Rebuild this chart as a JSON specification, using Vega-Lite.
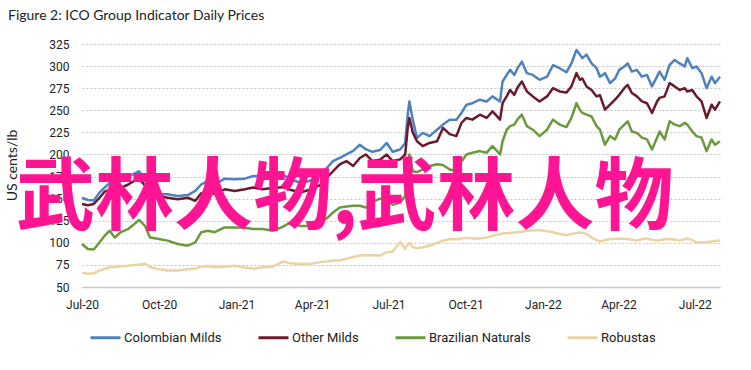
{
  "$schema": "https://vega.github.io/schema/vega-lite/v6.json",
  "width": 638,
  "height": 243,
  "autosize": "none",
  "padding": {"left": 82, "top": 44, "right": 31, "bottom": 83},
  "background": "white",
  "title": {
    "text": "Figure 2: ICO Group Indicator Daily Prices",
    "anchor": "start",
    "frame": "group",
    "dx": -74,
    "offset": 4,
    "baseline": "alphabetic",
    "font": "Lato",
    "fontSize": 14,
    "fontWeight": "normal",
    "color": "#222222"
  },
  "encoding": {
    "x": {
      "field": "date",
      "type": "temporal",
      "scale": {
        "type": "utc",
        "domain": [
          {"year": 2020, "month": 7, "date": 1, "utc": true},
          {"year": 2022, "month": 7, "date": 31, "utc": true}
        ]
      },
      "axis": {
        "values": [
          {"year": 2020, "month": 7, "date": 1, "utc": true},
          {"year": 2020, "month": 10, "date": 1, "utc": true},
          {"year": 2021, "month": 1, "date": 1, "utc": true},
          {"year": 2021, "month": 4, "date": 1, "utc": true},
          {"year": 2021, "month": 7, "date": 1, "utc": true},
          {"year": 2021, "month": 10, "date": 1, "utc": true},
          {"year": 2022, "month": 1, "date": 1, "utc": true},
          {"year": 2022, "month": 4, "date": 1, "utc": true},
          {"year": 2022, "month": 7, "date": 1, "utc": true}
        ],
        "labelExpr": "utcFormat(datum.value, '%b-%y')",
        "title": null,
        "grid": false,
        "ticks": false,
        "domain": true,
        "domainColor": "#c8c8c8",
        "domainWidth": 1.5,
        "labelPadding": 12,
        "labelFlush": false,
        "labelOverlap": false
      }
    },
    "y": {
      "field": "price",
      "type": "quantitative",
      "scale": {"domain": [50, 325], "nice": false, "zero": false},
      "axis": {
        "values": [50, 75, 100, 125, 150, 175, 200, 225, 250, 275, 300, 325],
        "title": "US cents/lb",
        "titleFont": "Lato",
        "titleFontSize": 14,
        "titleFontWeight": "normal",
        "titleColor": "#222222",
        "titleX": -70,
        "titleY": 121,
        "titleBaseline": "middle",
        "domain": false,
        "ticks": false,
        "grid": true,
        "gridColor": "#c4c4c4",
        "gridDash": [2, 2],
        "gridWidth": 1.2,
        "labelPadding": 13,
        "labelOverlap": false
      }
    }
  },
  "layer": [
    {
      "data": {
        "values": [
          {"date": "2020-07-01", "Colombian Milds": 151, "Other Milds": 144, "Brazilian Naturals": 98.7, "Robustas": 66},
          {"date": "2020-07-08", "Colombian Milds": 148.5, "Other Milds": 142.6, "Brazilian Naturals": 93, "Robustas": 65},
          {"date": "2020-07-15", "Colombian Milds": 148, "Other Milds": 144, "Brazilian Naturals": 92.5, "Robustas": 65.5},
          {"date": "2020-07-22", "Colombian Milds": 157, "Other Milds": 151, "Brazilian Naturals": 100.6, "Robustas": 68.7},
          {"date": "2020-07-28", "Colombian Milds": 162.5, "Other Milds": 158, "Brazilian Naturals": 108, "Robustas": 70.5},
          {"date": "2020-08-03", "Colombian Milds": 168, "Other Milds": 160, "Brazilian Naturals": 113.7, "Robustas": 72.4},
          {"date": "2020-08-09", "Colombian Milds": 166, "Other Milds": 158, "Brazilian Naturals": 106, "Robustas": 72.6},
          {"date": "2020-08-16", "Colombian Milds": 170, "Other Milds": 162, "Brazilian Naturals": 112, "Robustas": 73.5},
          {"date": "2020-08-25", "Colombian Milds": 175.6, "Other Milds": 166, "Brazilian Naturals": 115.6, "Robustas": 74},
          {"date": "2020-09-01", "Colombian Milds": 178, "Other Milds": 170, "Brazilian Naturals": 121, "Robustas": 75},
          {"date": "2020-09-07", "Colombian Milds": 181, "Other Milds": 172, "Brazilian Naturals": 126, "Robustas": 75.5},
          {"date": "2020-09-14", "Colombian Milds": 172, "Other Milds": 165, "Brazilian Naturals": 119.3, "Robustas": 76.5},
          {"date": "2020-09-20", "Colombian Milds": 158.7, "Other Milds": 156, "Brazilian Naturals": 106, "Robustas": 72.4},
          {"date": "2020-09-29", "Colombian Milds": 155, "Other Milds": 153, "Brazilian Naturals": 104.6, "Robustas": 70.5},
          {"date": "2020-10-11", "Colombian Milds": 155, "Other Milds": 151, "Brazilian Naturals": 102.5, "Robustas": 68.7},
          {"date": "2020-10-23", "Colombian Milds": 153, "Other Milds": 149.4, "Brazilian Naturals": 98.7, "Robustas": 68.7},
          {"date": "2020-11-04", "Colombian Milds": 154, "Other Milds": 151, "Brazilian Naturals": 96.8, "Robustas": 70},
          {"date": "2020-11-13", "Colombian Milds": 158.7, "Other Milds": 147.5, "Brazilian Naturals": 100.6, "Robustas": 71},
          {"date": "2020-11-20", "Colombian Milds": 166, "Other Milds": 156, "Brazilian Naturals": 112, "Robustas": 73},
          {"date": "2020-11-28", "Colombian Milds": 170, "Other Milds": 158.7, "Brazilian Naturals": 113.7, "Robustas": 73.5},
          {"date": "2020-12-06", "Colombian Milds": 166, "Other Milds": 155, "Brazilian Naturals": 112, "Robustas": 72.4},
          {"date": "2020-12-18", "Colombian Milds": 172.6, "Other Milds": 160.6, "Brazilian Naturals": 117.4, "Robustas": 73},
          {"date": "2020-12-30", "Colombian Milds": 172, "Other Milds": 158.7, "Brazilian Naturals": 117.4, "Robustas": 74},
          {"date": "2021-01-11", "Colombian Milds": 172.6, "Other Milds": 160.6, "Brazilian Naturals": 117, "Robustas": 72},
          {"date": "2021-01-21", "Colombian Milds": 175.6, "Other Milds": 162.5, "Brazilian Naturals": 115.6, "Robustas": 70.6},
          {"date": "2021-02-01", "Colombian Milds": 175, "Other Milds": 160.6, "Brazilian Naturals": 115.6, "Robustas": 72.4},
          {"date": "2021-02-13", "Colombian Milds": 176, "Other Milds": 162, "Brazilian Naturals": 113.7, "Robustas": 73},
          {"date": "2021-02-25", "Colombian Milds": 177, "Other Milds": 163, "Brazilian Naturals": 118, "Robustas": 78.7},
          {"date": "2021-03-06", "Colombian Milds": 172, "Other Milds": 160, "Brazilian Naturals": 123, "Robustas": 77},
          {"date": "2021-03-18", "Colombian Milds": 168, "Other Milds": 157, "Brazilian Naturals": 119, "Robustas": 76},
          {"date": "2021-03-29", "Colombian Milds": 170, "Other Milds": 160, "Brazilian Naturals": 119, "Robustas": 76},
          {"date": "2021-04-10", "Colombian Milds": 176, "Other Milds": 165, "Brazilian Naturals": 122, "Robustas": 78},
          {"date": "2021-04-19", "Colombian Milds": 185, "Other Milds": 174, "Brazilian Naturals": 128, "Robustas": 79},
          {"date": "2021-04-26", "Colombian Milds": 192.5, "Other Milds": 181, "Brazilian Naturals": 134.4, "Robustas": 80},
          {"date": "2021-05-04", "Colombian Milds": 196, "Other Milds": 188.7, "Brazilian Naturals": 140, "Robustas": 80},
          {"date": "2021-05-12", "Colombian Milds": 200, "Other Milds": 192.5, "Brazilian Naturals": 141, "Robustas": 82},
          {"date": "2021-05-20", "Colombian Milds": 204, "Other Milds": 187, "Brazilian Naturals": 142, "Robustas": 84},
          {"date": "2021-05-28", "Colombian Milds": 211, "Other Milds": 196, "Brazilian Naturals": 142, "Robustas": 85.6},
          {"date": "2021-06-04", "Colombian Milds": 206, "Other Milds": 200, "Brazilian Naturals": 140, "Robustas": 86},
          {"date": "2021-06-12", "Colombian Milds": 203, "Other Milds": 192.5, "Brazilian Naturals": 146, "Robustas": 86},
          {"date": "2021-06-21", "Colombian Milds": 205, "Other Milds": 194, "Brazilian Naturals": 150, "Robustas": 85.6},
          {"date": "2021-06-29", "Colombian Milds": 213, "Other Milds": 200, "Brazilian Naturals": 148, "Robustas": 89.4},
          {"date": "2021-07-06", "Colombian Milds": 203, "Other Milds": 192.5, "Brazilian Naturals": 143, "Robustas": 90},
          {"date": "2021-07-15", "Colombian Milds": 205.6, "Other Milds": 194.4, "Brazilian Naturals": 145.6, "Robustas": 101},
          {"date": "2021-07-21", "Colombian Milds": 213, "Other Milds": 200, "Brazilian Naturals": 153, "Robustas": 93},
          {"date": "2021-07-24", "Colombian Milds": 245, "Other Milds": 230, "Brazilian Naturals": 185, "Robustas": 98},
          {"date": "2021-07-26", "Colombian Milds": 260, "Other Milds": 241.3, "Brazilian Naturals": 200, "Robustas": 100},
          {"date": "2021-07-30", "Colombian Milds": 239.4, "Other Milds": 225, "Brazilian Naturals": 181, "Robustas": 95},
          {"date": "2021-08-04", "Colombian Milds": 218.8, "Other Milds": 215, "Brazilian Naturals": 180, "Robustas": 94},
          {"date": "2021-08-11", "Colombian Milds": 224.4, "Other Milds": 209.4, "Brazilian Naturals": 183, "Robustas": 95},
          {"date": "2021-08-19", "Colombian Milds": 220.7, "Other Milds": 213, "Brazilian Naturals": 187, "Robustas": 97},
          {"date": "2021-08-28", "Colombian Milds": 228, "Other Milds": 215, "Brazilian Naturals": 189, "Robustas": 100},
          {"date": "2021-09-04", "Colombian Milds": 233.8, "Other Milds": 230, "Brazilian Naturals": 188, "Robustas": 102.5},
          {"date": "2021-09-12", "Colombian Milds": 239.4, "Other Milds": 223, "Brazilian Naturals": 183, "Robustas": 104.3},
          {"date": "2021-09-20", "Colombian Milds": 239.4, "Other Milds": 220.7, "Brazilian Naturals": 181, "Robustas": 104},
          {"date": "2021-09-26", "Colombian Milds": 247, "Other Milds": 235.7, "Brazilian Naturals": 192, "Robustas": 105},
          {"date": "2021-10-02", "Colombian Milds": 256.3, "Other Milds": 241.3, "Brazilian Naturals": 200, "Robustas": 105.6},
          {"date": "2021-10-09", "Colombian Milds": 258, "Other Milds": 239.4, "Brazilian Naturals": 202, "Robustas": 105},
          {"date": "2021-10-18", "Colombian Milds": 262, "Other Milds": 245, "Brazilian Naturals": 203.8, "Robustas": 105},
          {"date": "2021-10-26", "Colombian Milds": 260, "Other Milds": 241.3, "Brazilian Naturals": 202, "Robustas": 106},
          {"date": "2021-11-02", "Colombian Milds": 265.7, "Other Milds": 248.8, "Brazilian Naturals": 209.4, "Robustas": 108},
          {"date": "2021-11-11", "Colombian Milds": 260, "Other Milds": 239.4, "Brazilian Naturals": 200, "Robustas": 110},
          {"date": "2021-11-14", "Colombian Milds": 282.6, "Other Milds": 258, "Brazilian Naturals": 215, "Robustas": 110.5},
          {"date": "2021-11-19", "Colombian Milds": 290, "Other Milds": 266, "Brazilian Naturals": 228, "Robustas": 111},
          {"date": "2021-11-23", "Colombian Milds": 295.7, "Other Milds": 273, "Brazilian Naturals": 232, "Robustas": 111.2},
          {"date": "2021-11-28", "Colombian Milds": 290, "Other Milds": 267.5, "Brazilian Naturals": 233.8, "Robustas": 111.6},
          {"date": "2021-12-02", "Colombian Milds": 298, "Other Milds": 276, "Brazilian Naturals": 240, "Robustas": 112},
          {"date": "2021-12-07", "Colombian Milds": 305, "Other Milds": 282.6, "Brazilian Naturals": 245, "Robustas": 112.5},
          {"date": "2021-12-13", "Colombian Milds": 292, "Other Milds": 271.3, "Brazilian Naturals": 232, "Robustas": 113.7},
          {"date": "2021-12-20", "Colombian Milds": 290, "Other Milds": 265.7, "Brazilian Naturals": 228, "Robustas": 114},
          {"date": "2021-12-28", "Colombian Milds": 284.5, "Other Milds": 260, "Brazilian Naturals": 220.7, "Robustas": 114.5},
          {"date": "2022-01-06", "Colombian Milds": 288, "Other Milds": 265.7, "Brazilian Naturals": 228, "Robustas": 113},
          {"date": "2022-01-13", "Colombian Milds": 301, "Other Milds": 275, "Brazilian Naturals": 239.4, "Robustas": 112},
          {"date": "2022-01-21", "Colombian Milds": 297.6, "Other Milds": 271.3, "Brazilian Naturals": 233.8, "Robustas": 110},
          {"date": "2022-01-29", "Colombian Milds": 293, "Other Milds": 270, "Brazilian Naturals": 231, "Robustas": 108.5},
          {"date": "2022-02-04", "Colombian Milds": 303, "Other Milds": 277, "Brazilian Naturals": 241.3, "Robustas": 110},
          {"date": "2022-02-10", "Colombian Milds": 318.2, "Other Milds": 292, "Brazilian Naturals": 258, "Robustas": 111},
          {"date": "2022-02-14", "Colombian Milds": 313, "Other Milds": 284.5, "Brazilian Naturals": 250.7, "Robustas": 111.6},
          {"date": "2022-02-17", "Colombian Milds": 309, "Other Milds": 286, "Brazilian Naturals": 247, "Robustas": 111.5},
          {"date": "2022-02-22", "Colombian Milds": 313, "Other Milds": 277, "Brazilian Naturals": 245, "Robustas": 110},
          {"date": "2022-02-28", "Colombian Milds": 303, "Other Milds": 273, "Brazilian Naturals": 243, "Robustas": 106},
          {"date": "2022-03-06", "Colombian Milds": 297.6, "Other Milds": 265.7, "Brazilian Naturals": 232, "Robustas": 103},
          {"date": "2022-03-10", "Colombian Milds": 288, "Other Milds": 267, "Brazilian Naturals": 228, "Robustas": 101.5},
          {"date": "2022-03-16", "Colombian Milds": 292, "Other Milds": 250.7, "Brazilian Naturals": 211, "Robustas": 103},
          {"date": "2022-03-22", "Colombian Milds": 280.7, "Other Milds": 256.3, "Brazilian Naturals": 220.7, "Robustas": 104.3},
          {"date": "2022-03-28", "Colombian Milds": 286, "Other Milds": 262, "Brazilian Naturals": 217, "Robustas": 104.5},
          {"date": "2022-04-02", "Colombian Milds": 295.7, "Other Milds": 267.5, "Brazilian Naturals": 228, "Robustas": 105},
          {"date": "2022-04-08", "Colombian Milds": 299.5, "Other Milds": 275, "Brazilian Naturals": 233.8, "Robustas": 104.5},
          {"date": "2022-04-12", "Colombian Milds": 303, "Other Milds": 278.8, "Brazilian Naturals": 237.5, "Robustas": 104.3},
          {"date": "2022-04-17", "Colombian Milds": 293.8, "Other Milds": 269.5, "Brazilian Naturals": 226, "Robustas": 103.5},
          {"date": "2022-04-23", "Colombian Milds": 295.7, "Other Milds": 265.7, "Brazilian Naturals": 224.4, "Robustas": 102.5},
          {"date": "2022-04-29", "Colombian Milds": 288, "Other Milds": 260, "Brazilian Naturals": 219, "Robustas": 104},
          {"date": "2022-05-05", "Colombian Milds": 290, "Other Milds": 258, "Brazilian Naturals": 217, "Robustas": 105},
          {"date": "2022-05-11", "Colombian Milds": 277, "Other Milds": 247, "Brazilian Naturals": 205.6, "Robustas": 103.5},
          {"date": "2022-05-17", "Colombian Milds": 288, "Other Milds": 260, "Brazilian Naturals": 219, "Robustas": 102.5},
          {"date": "2022-05-20", "Colombian Milds": 293.8, "Other Milds": 264, "Brazilian Naturals": 226, "Robustas": 103},
          {"date": "2022-05-26", "Colombian Milds": 284.5, "Other Milds": 265.7, "Brazilian Naturals": 217, "Robustas": 104},
          {"date": "2022-06-01", "Colombian Milds": 301.4, "Other Milds": 280.7, "Brazilian Naturals": 237.5, "Robustas": 104.3},
          {"date": "2022-06-07", "Colombian Milds": 307, "Other Milds": 277, "Brazilian Naturals": 233.8, "Robustas": 103.5},
          {"date": "2022-06-13", "Colombian Milds": 303, "Other Milds": 273, "Brazilian Naturals": 232, "Robustas": 102.5},
          {"date": "2022-06-19", "Colombian Milds": 299.5, "Other Milds": 275, "Brazilian Naturals": 235.7, "Robustas": 104},
          {"date": "2022-06-22", "Colombian Milds": 309, "Other Milds": 271.3, "Brazilian Naturals": 233.8, "Robustas": 105},
          {"date": "2022-06-28", "Colombian Milds": 297.6, "Other Milds": 273, "Brazilian Naturals": 226, "Robustas": 103},
          {"date": "2022-07-03", "Colombian Milds": 299.5, "Other Milds": 265.7, "Brazilian Naturals": 220.7, "Robustas": 100.6},
          {"date": "2022-07-09", "Colombian Milds": 292, "Other Milds": 260, "Brazilian Naturals": 219, "Robustas": 100.5},
          {"date": "2022-07-15", "Colombian Milds": 275, "Other Milds": 241.3, "Brazilian Naturals": 203.8, "Robustas": 100.6},
          {"date": "2022-07-21", "Colombian Milds": 288, "Other Milds": 256.3, "Brazilian Naturals": 217, "Robustas": 101.5},
          {"date": "2022-07-25", "Colombian Milds": 280.7, "Other Milds": 250.7, "Brazilian Naturals": 211, "Robustas": 102},
          {"date": "2022-07-31", "Colombian Milds": 288, "Other Milds": 260, "Brazilian Naturals": 215, "Robustas": 102.5}
        ]
      },
      "transform": [
        {"fold": ["Colombian Milds", "Other Milds", "Brazilian Naturals", "Robustas"], "as": ["series", "price"]}
      ],
      "mark": {"type": "line", "strokeWidth": 2.5, "strokeJoin": "round"},
      "encoding": {
        "color": {
          "field": "series",
          "type": "nominal",
          "scale": {
            "domain": ["Colombian Milds", "Other Milds", "Brazilian Naturals", "Robustas"],
            "range": ["#4f81bd", "#6b1a2c", "#6b9a3c", "#ebd4a3"]
          },
          "legend": {
            "title": null,
            "orient": "none",
            "legendX": 7,
            "legendY": 277,
            "direction": "horizontal",
            "symbolType": "stroke",
            "symbolSize": 900,
            "symbolStrokeWidth": 3,
            "labelOffset": 2,
            "columnPadding": 30,
            "labelFont": "Roboto",
            "labelFontSize": 13,
            "labelColor": "#222222"
          }
        }
      }
    },
    {
      "data": {"values": [{"date": "2021-05-10", "price": 148.5, "label": "武林人物,武林人物"}]},
      "mark": {
        "type": "text",
        "font": "Noto Sans CJK SC",
        "fontSize": 79,
        "fontWeight": "bold",
        "color": "#ff1493",
        "align": "center",
        "baseline": "middle"
      },
      "encoding": {
        "text": {"field": "label"}
      }
    }
  ],
  "config": {
    "view": {"stroke": null},
    "axis": {
      "labelFont": "Roboto",
      "labelFontSize": 12,
      "labelColor": "#222222"
    }
  }
}
